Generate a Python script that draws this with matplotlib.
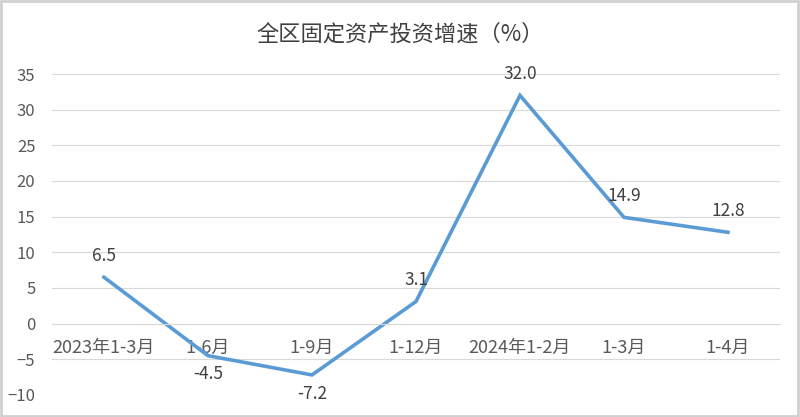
import matplotlib.pyplot as plt
from matplotlib.patches import Rectangle

categories = ["2023年1-3月", "1-6月", "1-9月", "1-12月", "2024年1-2月", "1-3月", "1-4月"]
growth = [6.5, -4.5, -7.2, 3.1, 32.0, 14.9, 12.8]
label_above = [True, False, False, True, True, True, True]

plt.rcParams["font.family"] = ["Liberation Sans Narrow", "Noto Sans CJK SC", "DejaVu Sans"]

fig = plt.figure(figsize=(8, 4.17), dpi=100)
ax = fig.add_axes([0.065, 0.053, 0.91, 0.7695])

x = list(range(len(categories)))
ax.plot(x, growth, color="#5B9BD5", lw=2.6, solid_joinstyle="miter")

for xi, v, up in zip(x, growth, label_above):
    if up:
        ax.annotate(f"{v:.1f}", (xi, v), xytext=(0, 9), textcoords="offset points",
                    ha="center", va="bottom", fontsize=12.5, color="#404040")
    else:
        ax.annotate(f"{v:.1f}", (xi, v), xytext=(0, -7), textcoords="offset points",
                    ha="center", va="top", fontsize=12.5, color="#404040")

ax.set_xlim(-0.5, len(categories) - 0.5)
ax.set_ylim(-10, 35)
ax.set_yticks(range(-10, 40, 5))
ax.yaxis.grid(True, color="#d9d9d9", lw=0.8)
ax.set_axisbelow(True)
ax.set_xticks(x)
ax.set_xticklabels(categories)
ax.tick_params(axis="x", length=0, pad=11, labelsize=13, labelcolor="#595959")
ax.tick_params(axis="y", length=0, labelsize=12, labelcolor="#595959", pad=12)
for side in ("top", "right", "left"):
    ax.spines[side].set_visible(False)
ax.spines["bottom"].set_position(("data", 0))
ax.spines["bottom"].set_color("#d9d9d9")
ax.spines["bottom"].set_linewidth(0.8)

fig.text(0.5, 0.918, "全区固定资产投资增速（%）", ha="center", va="center",
         fontsize=16, color="#404040", family=["Noto Sans CJK SC", "DejaVu Sans"])

fig.patches.append(Rectangle((0.001, 0.002), 0.997, 0.995, transform=fig.transFigure,
                             fill=False, edgecolor="#d0d0d0", lw=2))

fig.savefig("out.png", dpi=100)
